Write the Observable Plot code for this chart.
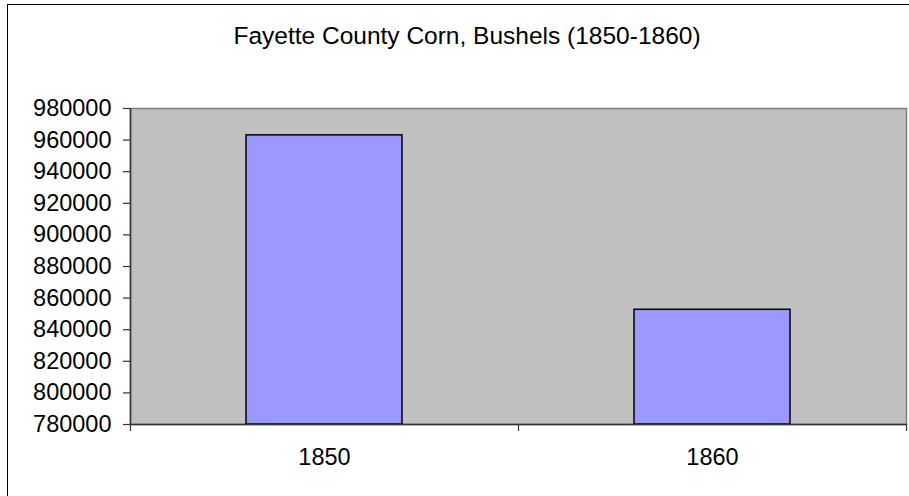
<!DOCTYPE html>
<html>
<head>
<meta charset="utf-8">
<script src="https://cdn.jsdelivr.net/npm/d3@7"></script>
<script src="https://cdn.jsdelivr.net/npm/@observablehq/plot@0.6"></script>
<style>
  html, body { margin: 0; padding: 0; background: #fff; overflow: hidden; width: 909px; height: 496px; }
  #wrap { position: relative; width: 909px; height: 496px; overflow: hidden; }
  #border { position: absolute; left: 7px; top: 4px; width: 1000px; height: 1000px; border: 1.5px solid #000; box-sizing: border-box; }
  #title { position: absolute; top: 24px; left: 467px; transform: translateX(-50%); white-space: nowrap; line-height: 1;
           font-family: "Liberation Sans", Arial, sans-serif; font-size: 24.5px; color: #000; }
  #chart { position: absolute; left: 0; top: 0; }
  #chart svg { background: transparent; }
</style>
</head>
<body>
<div id="wrap">
  <div id="border"></div>
  <div id="title">Fayette County Corn, Bushels (1850-1860)</div>
  <div id="chart"></div>
</div>
<script>
const years = ["1850", "1860"];
const bushels = [963000, 852600];
const yTickValues = [780000, 800000, 820000, 840000, 860000, 880000, 900000, 920000, 940000, 960000, 980000];
const yDomain = [780000, 980000];

const data = years.map((year, i) => ({ year, value: bushels[i], i }));

const chart = Plot.plot({
  width: 909,
  height: 496,
  marginLeft: 130,
  marginRight: 3,
  marginTop: 108,
  marginBottom: 72,
  style: { fontFamily: "'Liberation Sans', Arial, sans-serif", fontSize: "23.5px", color: "#000", background: "transparent" },
  x: { type: "linear", domain: [0, years.length], label: null },
  y: { domain: yDomain, label: null },
  marks: [
    Plot.frame({ fill: "#c0c0c0", stroke: "#808080", strokeWidth: 1.5 }),
    Plot.rectY(data, {
      x1: d => d.i, x2: d => d.i + 1, y1: yDomain[0], y2: "value",
      insetLeft: 116, insetRight: 116,
      fill: "#9999ff", stroke: "#000", strokeWidth: 1.5
    }),
    Plot.ruleY([yDomain[0]], { stroke: "#333", strokeWidth: 1.5 }),
    Plot.ruleX([0], { stroke: "#333", strokeWidth: 1.5 }),
    Plot.axisY({ ticks: yTickValues, label: null, tickSize: 7, tickPadding: 12, tickFormat: d => String(d), fontSize: 23.5, stroke: "#333", strokeWidth: 1.2 }),
    Plot.axisX({ ticks: d3.range(0, years.length + 1), label: null, tickSize: 7, tickFormat: () => "", stroke: "#333", strokeWidth: 1.2 }),
    Plot.text(data, { x: d => d.i + 0.5, text: "year", frameAnchor: "bottom", dy: 40, fontSize: 23.5, fill: "#000" })
  ]
});
document.getElementById("chart").appendChild(chart);
</script>
</body>
</html>
